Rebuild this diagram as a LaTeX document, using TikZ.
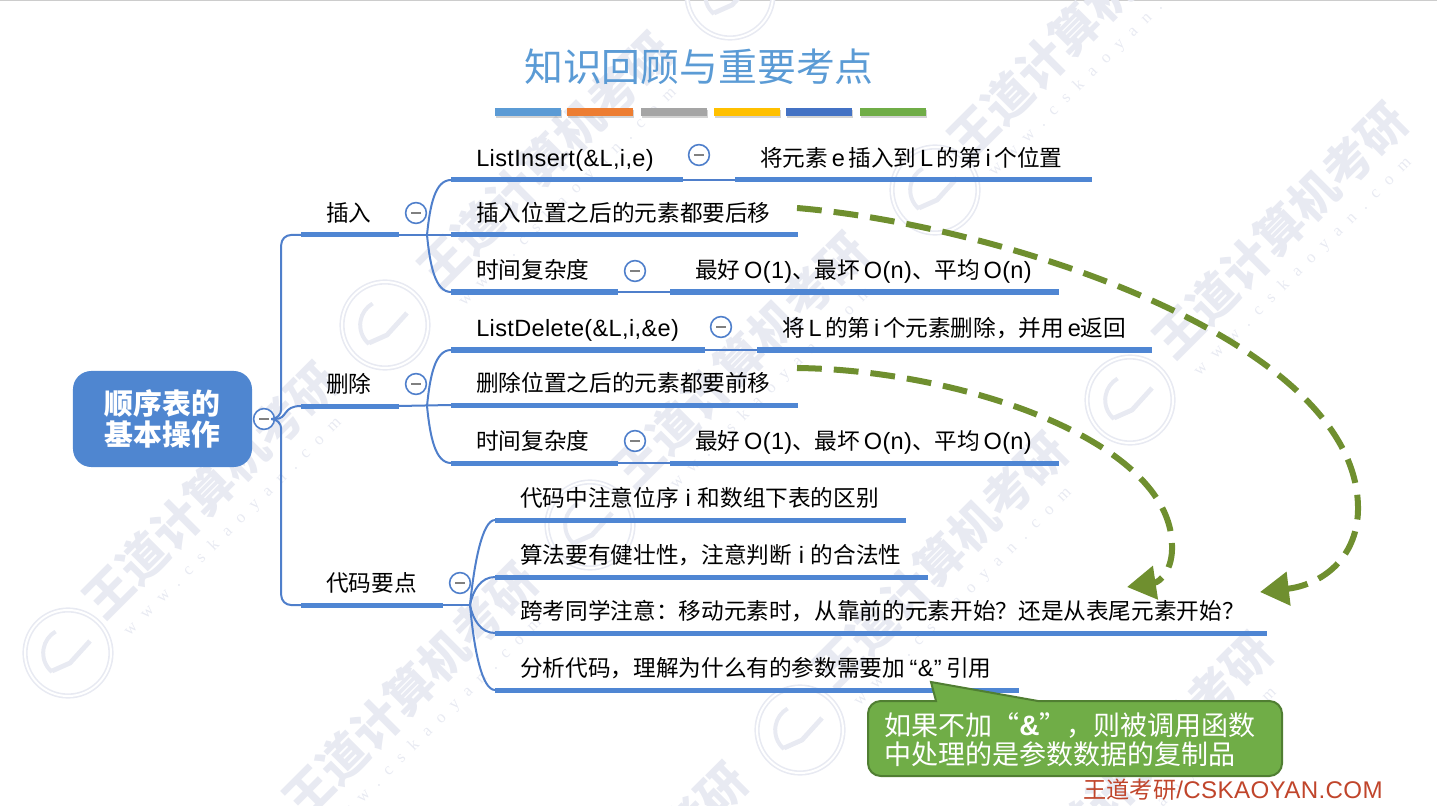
\documentclass[tikz,border=0pt]{standalone}
\usepackage{fontspec}
\setmainfont{Noto Sans CJK SC}
\newfontfamily\la[Scale=1.04,LetterSpace=1.5]{Liberation Sans}
\newfontfamily\wmla[LetterSpace=65]{Liberation Serif}
\newcommand\lw[1]{\hspace{0.16em}{\la #1}\hspace{0.16em}}
\newcommand\lf[1]{\hspace{0.16em}{\la #1}}
\usetikzlibrary{arrows.meta,shadows}
\definecolor{barblue}{HTML}{4F86D3}
\definecolor{linkblue}{HTML}{4F7FCB}
\definecolor{rootblue}{HTML}{4F86D0}
\definecolor{titleblue}{HTML}{5B9BD5}
\definecolor{flowgreen}{HTML}{6F8F2F}
\definecolor{notegreen}{HTML}{70AD47}
\definecolor{noteedge}{HTML}{507E32}
\definecolor{sitered}{HTML}{C0452B}
\definecolor{wmgray}{HTML}{E8EAF2}
\tikzset{
  topic/.style={text width=#1*0.025cm, align=flush left, inner xsep=0pt, inner ysep=0pt,
    anchor=south west, text height=14pt, text depth=9.6pt,
    font=\fontsize{16.1}{18}\selectfont, execute at begin node={\hspace*{0.625cm}}},
  thickbar/.style={line width=0.125cm, barblue},
  link/.style={line width=0.05cm, linkblue},
  knob/.style={circle, draw=linkblue, line width=0.04cm, fill=white, inner sep=0pt, minimum size=0.52cm,
    path picture={\draw[gray, line width=0.03cm] ([xshift=-0.12cm]path picture bounding box.center) -- ([xshift=0.12cm]path picture bounding box.center);}},
  flow/.style={line width=0.15cm, flowgreen, dash pattern=on 0.62cm off 0.3cm, -{Triangle[length=0.72cm,width=0.82cm]}},
  tickbar/.style={minimum width=1.65cm, minimum height=0.2cm, inner sep=0pt, fill=#1, drop shadow={shadow xshift=0.02cm, shadow yshift=-0.05cm, opacity=0.35}},
  wmbig/.style={rotate=45, text=wmgray, font=\fontsize{34}{36}\selectfont\bfseries},
  wmsmall/.style={rotate=45, text=wmgray, font=\fontsize{12}{14}\wmla},
  wmlogo/.style={circle, draw=wmgray, double=white, double distance=0.05cm, line width=0.04cm, minimum size=2.15cm,
    path picture={
      \draw[wmgray, line width=0.1cm] ([shift={(230:0.62cm)}]path picture bounding box.center) arc (230:120:0.62cm);
      \draw[wmgray, line width=0.12cm] ([shift={(-0.4cm,-0.45cm)}]path picture bounding box.center) -- ([shift={(0.05cm,-0.25cm)}]path picture bounding box.center) -- ([shift={(0.55cm,0.3cm)}]path picture bounding box.center);
    }},
}
\begin{document}
\begin{tikzpicture}[x=0.025cm,y=-0.025cm]
  \useasboundingbox (0,0) rectangle (1437,806);
  \draw[gray!40, line width=0.03cm] (0,0.5) -- (1437,0.5);

  % watermark
  \foreach \x/\y [count=\i] in {210/490,410/690,620/890,545/160,740/360,940/560,1145/760,1075/30,1280/230}{
    \node[wmbig] (wb\i) at (\x,\y) {王道计算机考研};
    \node[wmsmall] (ws\i) at (\x+23,\y+37) {www.cskaoyan.com};
  }
  \foreach \x/\y [count=\i] in {68/653,385/325,590/525,800/730,1130/400,935/190,730/-5}
    \node[wmlogo] (wl\i) at (\x,\y) {};

  % title
  \node[text=titleblue, font=\fontsize{27.6}{30}\selectfont] (title) at (699,67) {知识回顾与重要考点};
  \foreach \x/\c [count=\i] in {528/5B9BD5,600/ED7D31,674/A5A5A5,747/FFC000,819/4472C4,893/70AD47}{
    \definecolor{tick\i}{HTML}{\c}
    \node[tickbar=tick\i] (tick\i) at (\x,112) {};
  }

  % root
  \node[fill=rootblue, rounded corners=13pt, minimum width=4.475cm, minimum height=2.4cm, align=center,
    text=white, font=\fontsize{20.5}{21.5}\selectfont\bfseries] (root) at (162.5,419) {顺序表的\\基本操作};
  \node[knob] (rootk) at (264,419) {};

  % first level
  \node[topic=97] (ins) at (301,235) {插入};
  \node[topic=97] (del) at (301,406) {删除};
  \node[topic=141] (cod) at (301,605) {代码要点};
  \node[knob] (insk) at (416,213) {};
  \node[knob] (delk) at (416,384) {};
  \node[knob] (codk) at (460,583) {};

  % insert
  \node[topic=231] (ins1) at (451,180) {{\la ListInsert(\&L,i,e)}};
  \node[topic=356] (ins1r) at (735,180) {将元素\lw{e}插入到\lw{L}的第\lw{i}个位置};
  \node[topic=346] (ins2) at (451,235) {插入位置之后的元素都要后移};
  \node[topic=166] (ins3) at (451,292) {时间复杂度};
  \node[topic=388] (ins3r) at (670,292) {最好\lf{O(1)}、最坏\lf{O(n)}、平均\lf{O(n)}};
  \node[knob] (ins1k) at (699,155) {};
  \node[knob] (ins3k) at (635,271) {};

  % delete
  \node[topic=253] (del1) at (451,350) {{\la ListDelete(\&L,i,\&e)}};
  \node[topic=394] (del1r) at (757,350) {将\lw{L}的第\lw{i}个元素删除，并用\lf{e}返回};
  \node[topic=346] (del2) at (451,405) {删除位置之后的元素都要前移};
  \node[topic=166] (del3) at (451,463) {时间复杂度};
  \node[topic=388] (del3r) at (670,463) {最好\lf{O(1)}、最坏\lf{O(n)}、平均\lf{O(n)}};
  \node[knob] (del1k) at (721,327) {};
  \node[knob] (del3k) at (635,441) {};

  % code points
  \node[topic=410] (cod1) at (495,520) {代码中注意位序{\la\ i\ }和数组下表的区别};
  \node[topic=432] (cod2) at (495,577) {算法要有健壮性，注意判断{\la\ i\ }的合法性};
  \node[topic=771] (cod3) at (495,633) {跨考同学注意：移动元素时，从靠前的元素开始？还是从表尾元素开始？};
  \node[topic=523] (cod4) at (495,690) {分析代码，理解为什么有的参数需要加\hspace{0.2em}{\la “\&”}\hspace{0.2em}引用};

  \foreach \n in {ins,del,cod,ins1,ins1r,ins2,ins3,ins3r,del1,del1r,del2,del3,del3r,cod1,cod2,cod3,cod4}
    \draw[thickbar] (\n.south west) -- (\n.south east);

  % links
  \draw[link, rounded corners=7pt] (rootk.east) -- ++(6,0) |- (ins.south west);
  \draw[link, rounded corners=7pt] (rootk.east) -- ++(6,0) |- (cod.south west);
  \draw[link] (rootk.east) .. controls (288,419) and (282,406) .. (del.south west);
  \draw[link] (ins1.south east) -- (ins1r.south west);
  \draw[link] (ins3.south east) -- (ins3r.south west);
  \draw[link] (del1.south east) -- (del1r.south west);
  \draw[link] (del3.south east) -- (del3r.south west);
  \draw[link] (ins.south east) -- (ins2.south west);
  \draw[link] (del.south east) -- (del2.south west);
  \coordinate (inshub) at (427,235);
  \coordinate (delhub) at (427,406);
  \coordinate (codhub) at (470,605);
  \draw[link] (cod.south east) -- (codhub);
  \draw[link] (inshub) .. controls (430,205) and (435,180) .. (ins1.south west);
  \draw[link] (inshub) .. controls (430,265) and (435,292) .. (ins3.south west);
  \draw[link] (delhub) .. controls (430,376) and (435,350) .. (del1.south west);
  \draw[link] (delhub) .. controls (430,436) and (435,463) .. (del3.south west);
  \draw[link] (codhub) .. controls (474,565) and (482,520) .. (cod1.south west);
  \draw[link] (codhub) .. controls (473,590) and (481,577) .. (cod2.south west);
  \draw[link] (codhub) .. controls (473,620) and (481,633) .. (cod3.south west);
  \draw[link] (codhub) .. controls (474,650) and (482,690) .. (cod4.south west);

  % dashed arrows
  \coordinate (insfrom) at (797,208);
  \coordinate (delfrom) at (797,368);
  \coordinate (insto) at (1260,592);
  \coordinate (delto) at (1127,587);
  \draw[flow] (insfrom) .. controls (1000,225) and (1360,340) .. (1358,510) .. controls (1357,560) and (1320,585) .. (insto);
  \draw[flow] (delfrom) .. controls (960,370) and (1170,440) .. (1172,545) .. controls (1173,570) and (1160,582) .. (delto);

  % note
  \draw[fill=notegreen, draw=noteedge, line width=0.05cm] (936,701) -- (931,682) -- (1038,701) [rounded corners=9pt] -- (1282,701) -- (1282,776) -- (868,776) -- (868,701) [sharp corners] -- cycle;
  \node[anchor=west, align=left, text=white, inner sep=0pt, font=\fontsize{19.2}{20.8}\selectfont] (note) at (884,740) {如果不加“{\la\bfseries\&}”，则被调用函数\\中处理的是参数数据的复制品};

  \node[text=sitered, anchor=east, inner sep=0pt, font=\fontsize{16.5}{18}\selectfont] (site) at (1383,790) {王道考研{\la /CSKAOYAN.COM}};
\end{tikzpicture}
\end{document}
